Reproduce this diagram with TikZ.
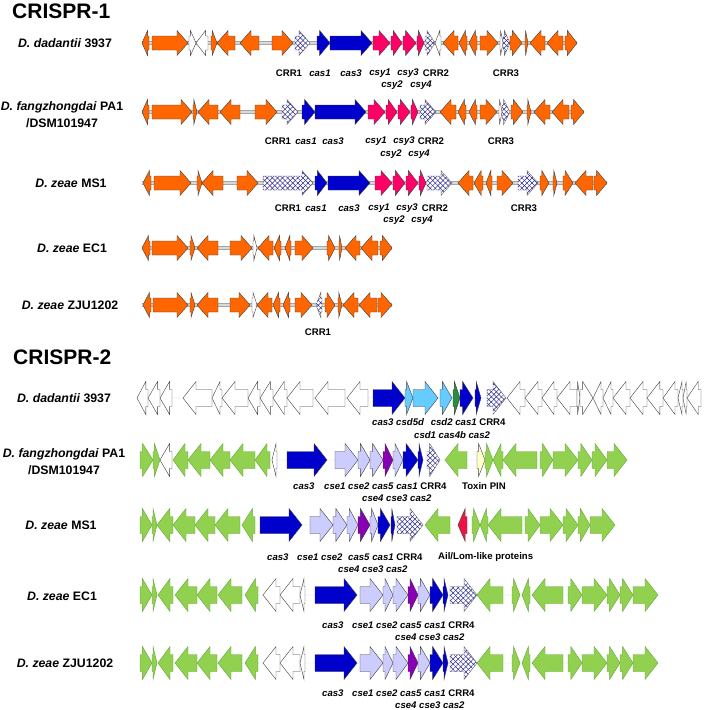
\documentclass[tikz,border=0pt]{standalone}
\usepackage{fontspec}
\setmainfont{Liberation Sans}
\usepackage{tikz}
\usetikzlibrary{patterns, patterns.meta}
\definecolor{genorange}{RGB}{255,102,0}
\definecolor{genblue}{RGB}{0,0,204}
\definecolor{genpink}{RGB}{255,0,102}
\definecolor{genhatch}{RGB}{40,40,140}
\definecolor{gengreen}{RGB}{146,208,80}
\definecolor{genedge}{RGB}{98,168,58}
\definecolor{genlblue}{RGB}{102,204,255}
\definecolor{gendgreen}{RGB}{40,140,60}
\definecolor{genlav}{RGB}{204,204,255}
\definecolor{genpurple}{RGB}{136,0,180}
\definecolor{genred}{RGB}{235,20,70}
\definecolor{genyellow}{RGB}{255,255,204}

% gene arrow: [style]{y}{tail}{tip}
\newcommand{\gene}[4][orangegene]{%
  \pgfmathsetmacro\gnw{#4-(#3)}%
  \pgfmathsetmacro\gnl{sign(\gnw)*min(\headmax,0.8*abs(\gnw))}%
  \pgfmathsetmacro\gnb{#4-(\gnl)}%
  \draw[#1] (#3,#2-\bodyh) -- (\gnb,#2-\bodyh) -- (\gnb,#2-\headh) -- (#4,#2)
    -- (\gnb,#2+\headh) -- (\gnb,#2+\bodyh) -- (#3,#2+\bodyh) -- cycle;}

\begin{document}
\begin{tikzpicture}[
            x = 1pt, y = -1pt, % picture in pixels, y down
            line join = miter,
            orangegene/.style = {fill = genorange, draw = black!75, line width = 0.4pt},
            whitegene/.style = {fill = white, draw = black!75, line width = 0.4pt},
            bluegene/.style = {fill = genblue, draw = black!75, line width = 0.4pt},
            pinkgene/.style = {fill = genpink, draw = black!75, line width = 0.4pt},
            hatchgene/.style = {draw = black!60, line width = 0.4pt,
                preaction = {fill = white},
                preaction = {pattern = {Lines[angle = 45, distance = 3.6pt, line width = 0.5pt]}, pattern color = genhatch},
                pattern = {Lines[angle = -45, distance = 3.6pt, line width = 0.5pt]}, pattern color = genhatch},
            greengene/.style = {fill = gengreen, draw = genedge, line width = 0.4pt},
            lbluegene/.style = {fill = genlblue, draw = black!75, line width = 0.4pt},
            dgreengene/.style = {fill = gendgreen, draw = black!75, line width = 0.4pt},
            lavgene/.style = {fill = genlav, draw = black!75, line width = 0.4pt},
            purplegene/.style = {fill = genpurple, draw = black!75, line width = 0.4pt},
            redgene/.style = {fill = genred, draw = black!75, line width = 0.4pt},
            yellowgene/.style = {fill = genyellow, draw = black!75, line width = 0.4pt},
            backbone/.style = {draw = gray!70, double = gray!30, double distance = 2pt, line width = 0.7pt},
            backbone2/.style = {draw = gray!35, double = gray!5, double distance = 1.6pt, line width = 0.5pt}
        ]

        \tikzstyle{hdr}=[font = \fontsize{21}{24}\selectfont\bfseries, anchor = west, inner sep = 0pt]
        \tikzstyle{splab}=[font = \fontsize{12.3}{17}\selectfont\bfseries, align = center, inner sep = 0pt]
        \tikzstyle{glab}=[font = \fontsize{9.6}{12}\selectfont\bfseries, inner sep = 0pt]
        \tikzstyle{gline}=[glab, anchor = west]

        \useasboundingbox (0,0) rectangle (709,710);

        \def\headh{12.5}
        \def\bodyh{7}
        \def\headmax{11}

	% CRISPR-1
        \node[hdr] (crispr1) at (12,11) {CRISPR-1};

        \node[splab] (spA1) at (65,43) {\textit{D. dadantii} 3937};
        \node[splab] (spA2) at (62,115) {\textit{D. fangzhongdai} PA1\\/DSM101947};
        \node[splab] (spA3) at (71,183) {\textit{D. zeae} MS1};
        \node[splab] (spA4) at (72,248) {\textit{D. zeae} EC1};
        \node[splab] (spA5) at (70,305) {\textit{D. zeae} ZJU1202};

        % D. dadantii 3937
        \coordinate (a1s) at (142,43);
        \coordinate (a1e) at (577,43);
        \draw[backbone] (a1s) -- (a1e);
        \gene{43}{149}{142}
        \gene{43}{152}{188}
        \gene[whitegene]{43}{189}{196}
        \gene[whitegene]{43}{208}{196}
        \gene{43}{211}{217}
        \gene{43}{235}{217}
        \gene{43}{259}{240}
        \gene{43}{272}{293}
        \gene[hatchgene]{43}{295}{310}
        \gene[bluegene]{43}{317}{330}
        \gene[bluegene]{43}{330}{372}
        \gene[pinkgene]{43}{373}{390}
        \gene[pinkgene]{43}{391}{402}
        \gene[pinkgene]{43}{403}{416}
        \gene[pinkgene]{43}{417}{424}
        \gene[hatchgene]{43}{425}{435}
        \gene[whitegene]{43}{441}{435}
        \gene{43}{458}{443}
        \gene{43}{467}{459}
        \gene{43}{477}{469}
        \gene{43}{480}{498}
        \gene[whitegene]{43}{500}{503}
        \gene[hatchgene]{43}{503}{510}
        \gene{43}{510}{522}
        \gene{43}{525}{528}
        \gene{43}{545}{530}
        \gene{43}{563}{547}
        \gene{43}{565}{577}

        \node[glab] (a1crr1) at (289,73) {CRR1};
        \node[glab] (a1cas1) at (320,73) {\textit{cas1}};
        \node[glab] (a1cas3) at (351,73) {\textit{cas3}};
        \node[glab] (a1csy1) at (380,73) {\textit{csy1}};
        \node[glab] (a1csy3) at (408,73) {\textit{csy3}};
        \node[glab] (a1crr2) at (436,73) {CRR2};
        \node[glab] (a1csy2) at (392,85) {\textit{csy2}};
        \node[glab] (a1csy4) at (421,85) {\textit{csy4}};
        \node[glab] (a1crr3) at (506,73) {CRR3};

        % D. fangzhongdai PA1
        \coordinate (a2s) at (142,112);
        \coordinate (a2e) at (584,112);
        \draw[backbone] (a2s) -- (a2e);
        \gene{112}{149}{142}
        \gene{112}{152}{192}
        \gene{112}{193}{197}
        \gene{112}{218}{198}
        \gene{112}{240}{220}
        \gene{112}{255}{277}
        \gene[hatchgene]{112}{282}{298}
        \gene[bluegene]{112}{302}{315}
        \gene[bluegene]{112}{315}{366}
        \gene[pinkgene]{112}{368}{385}
        \gene[pinkgene]{112}{386}{397}
        \gene[pinkgene]{112}{398}{410}
        \gene[pinkgene]{112}{411}{418}
        \gene[hatchgene]{112}{420}{436}
        \gene{112}{456}{440}
        \gene{112}{466}{458}
        \gene{112}{477}{469}
        \gene{112}{480}{497}
        \gene[whitegene]{112}{499}{502}
        \gene[hatchgene]{112}{502}{510}
        \gene{112}{511}{523}
        \gene{112}{527}{531}
        \gene{112}{550}{534}
        \gene{112}{569}{552}
        \gene{112}{571}{584}

        \node[glab] (a2crr1) at (278,141) {CRR1};
        \node[glab] (a2cas1) at (306,141) {\textit{cas1}};
        \node[glab] (a2cas3) at (333,141) {\textit{cas3}};
        \node[glab] (a2csy1) at (376,141) {\textit{csy1}};
        \node[glab] (a2csy3) at (404,141) {\textit{csy3}};
        \node[glab] (a2crr2) at (431,141) {CRR2};
        \node[glab] (a2csy2) at (391,154) {\textit{csy2}};
        \node[glab] (a2csy4) at (419,154) {\textit{csy4}};
        \node[glab] (a2crr3) at (501,141) {CRR3};

        % D. zeae MS1
        \coordinate (a3s) at (142,183);
        \coordinate (a3e) at (607,183);
        \draw[backbone] (a3s) -- (a3e);
        \gene{183}{151}{143}
        \gene{183}{154}{191}
        \gene{183}{197}{202}
        \gene{183}{223}{202}
        \gene{183}{237}{258}
        \gene[hatchgene]{183}{263}{313}
        \gene[bluegene]{183}{315}{327}
        \gene[bluegene]{183}{328}{370}
        \gene[pinkgene]{183}{375}{392}
        \gene[pinkgene]{183}{393}{405}
        \gene[pinkgene]{183}{406}{418}
        \gene[pinkgene]{183}{419}{426}
        \gene[hatchgene]{183}{427}{452}
        \gene{183}{473}{458}
        \gene{183}{483}{474}
        \gene{183}{492}{486}
        \gene{183}{497}{513}
        \gene[hatchgene]{183}{518}{538}
        \gene{183}{540}{549}
        \gene{183}{553}{557}
        \gene{183}{563}{573}
        \gene{183}{593}{575}
        \gene{183}{594}{607}

        \node[glab] (a3crr1) at (288,208) {CRR1};
        \node[glab] (a3cas1) at (316,208) {\textit{cas1}};
        \node[glab] (a3cas3) at (349,208) {\textit{cas3}};
        \node[glab] (a3csy1) at (379,208) {\textit{csy1}};
        \node[glab] (a3csy3) at (407,208) {\textit{csy3}};
        \node[glab] (a3crr2) at (435,208) {CRR2};
        \node[glab] (a3csy2) at (394,220) {\textit{csy2}};
        \node[glab] (a3csy4) at (422,220) {\textit{csy4}};
        \node[glab] (a3crr3) at (524,208) {CRR3};

        % D. zeae EC1
        \coordinate (a4s) at (142,248);
        \coordinate (a4e) at (392,248);
        \draw[backbone] (a4s) -- (a4e);
        \gene{248}{150}{142}
        \gene{248}{152}{188}
        \gene{248}{190}{195}
        \gene{248}{218}{197}
        \gene{248}{230}{252}
        \gene[whitegene]{248}{253}{257}
        \gene{248}{273}{258}
        \gene{248}{281}{274}
        \gene{248}{291}{285}
        \gene{248}{295}{313}
        \gene{248}{327}{335}
        \gene{248}{339}{342}
        \gene{248}{360}{345}
        \gene{248}{378}{361}
        \gene{248}{380}{392}

        % D. zeae ZJU1202
        \coordinate (a5s) at (142,305);
        \coordinate (a5e) at (392,305);
        \draw[backbone] (a5s) -- (a5e);
        \gene{305}{151}{143}
        \gene{305}{153}{188}
        \gene{305}{190}{195}
        \gene{305}{218}{197}
        \gene{305}{230}{250}
        \gene[whitegene]{305}{252}{257}
        \gene{305}{272}{257}
        \gene{305}{280}{273}
        \gene{305}{290}{283}
        \gene{305}{295}{312}
        \gene[hatchgene]{305}{322}{316}
        \gene{305}{325}{335}
        \gene{305}{338}{342}
        \gene{305}{358}{343}
        \gene{305}{377}{359}
        \gene{305}{378}{392}

        \node[glab] (a5crr1) at (318,332) {CRR1};

	% CRISPR-2
        \def\headh{16.5}
        \def\bodyh{8.5}
        \def\headmax{13}

        \node[hdr] (crispr2) at (13,357) {CRISPR-2};

        \node[splab] (spB1) at (64,398) {\textit{D. dadantii} 3937};
        \node[splab] (spB2) at (64,462) {\textit{D. fangzhongdai} PA1\\/DSM101947};
        \node[splab] (spB3) at (61,525) {\textit{D. zeae} MS1};
        \node[splab] (spB4) at (62,596) {\textit{D. zeae} EC1};
        \node[splab] (spB5) at (65,663) {\textit{D. zeae} ZJU1202};

        % D. dadantii 3937
        \coordinate (b1s) at (135,398);
        \coordinate (b1e) at (703,398);
        \draw[backbone2] (b1s) -- (b1e);
        \gene[whitegene]{398}{148}{137}
        \gene[whitegene]{398}{160}{148}
        \gene[whitegene]{398}{172}{160}
        \gene[whitegene]{398}{212}{183}
        \gene[whitegene]{398}{222}{212}
        \gene[whitegene]{398}{248}{222}
        \gene[whitegene]{398}{260}{248}
        \gene[whitegene]{398}{273}{260}
        \gene[whitegene]{398}{287}{273}
        \gene[whitegene]{398}{313}{287}
        \gene[whitegene]{398}{345}{315}
        \gene[whitegene]{398}{368}{347}
        \gene[bluegene]{398}{373}{405}
        \gene[lbluegene]{398}{405}{413}
        \gene[lbluegene]{398}{413}{438}
        \gene[lbluegene]{398}{440}{452}
        \gene[dgreengene]{398}{453}{460}
        \gene[bluegene]{398}{460}{473}
        \gene[bluegene]{398}{475}{481}
        \gene[hatchgene]{398}{487}{506}
        \gene[whitegene]{398}{525}{507}
        \gene[whitegene]{398}{542}{525}
        \gene[whitegene]{398}{557}{542}
        \gene[whitegene]{398}{577}{557}
        \gene[whitegene]{398}{577}{580}
        \gene[whitegene]{398}{580}{593}
        \gene[whitegene]{398}{603}{593}
        \gene[whitegene]{398}{613}{603}
        \gene[whitegene]{398}{630}{613}
        \gene[whitegene]{398}{647}{630}
        \gene[whitegene]{398}{663}{647}
        \gene[whitegene]{398}{678}{663}
        \gene[whitegene]{398}{683}{678}
        \gene[whitegene]{398}{687}{683}
        \gene[whitegene]{398}{701}{687}

        \node[gline] (b1top) at (372,422) {\textit{cas3} \textit{csd5d}\hspace{4pt} \textit{csd2} \textit{cas1} CRR4};
        \node[gline] (b1bot) at (414,435) {\textit{csd1} \textit{cas4b} \textit{cas2}};

        % D. fangzhongdai PA1
        \coordinate (b2s) at (140,460);
        \coordinate (b2e) at (627,460);
        \draw[backbone2] (b2s) -- (b2e);
        \gene[greengene]{460}{140}{153}
        \gene[greengene]{460}{153}{160}
        \gene[whitegene]{460}{172}{160}
        \gene[greengene]{460}{188}{173}
        \gene[greengene]{460}{210}{188}
        \gene[greengene]{460}{230}{210}
        \gene[greengene]{460}{255}{230}
        \gene[greengene]{460}{270}{255}
        \gene[whitegene]{460}{277}{272}
        \gene[bluegene]{460}{287}{327}
        \gene[lavgene]{460}{335}{358}
        \gene[lavgene]{460}{358}{370}
        \gene[lavgene]{460}{370}{383}
        \gene[purplegene]{460}{383}{393}
        \gene[lavgene]{460}{393}{403}
        \gene[bluegene]{460}{403}{418}
        \gene[bluegene]{460}{418}{423}
        \gene[hatchgene]{460}{427}{440}
        \gene[greengene]{460}{467}{445}
        \gene[yellowgene]{460}{477}{485}
        \gene[greengene]{460}{485}{493}
        \gene[greengene]{460}{503}{493}
        \gene[greengene]{460}{537}{503}
        \gene[greengene]{460}{540}{553}
        \gene[greengene]{460}{553}{578}
        \gene[greengene]{460}{578}{592}
        \gene[greengene]{460}{592}{607}
        \gene[greengene]{460}{607}{627}

        \node[gline] (b2cas3) at (293,486) {\textit{cas3}};
        \node[gline] (b2top) at (324,486) {\textit{cse1} \textit{cse2} \textit{cas5} \textit{cas1} CRR4};
        \node[gline] (b2pin) at (462,486) {Toxin PIN};
        \node[gline] (b2bot) at (362,498) {\textit{cse4} \textit{cse3} \textit{cas2}};

        % D. zeae MS1
        \coordinate (b3s) at (140,525);
        \coordinate (b3e) at (615,525);
        \draw[backbone2] (b3s) -- (b3e);
        \gene[greengene]{525}{140}{152}
        \gene[greengene]{525}{152}{157}
        \gene[greengene]{525}{173}{157}
        \gene[greengene]{525}{195}{173}
        \gene[greengene]{525}{215}{195}
        \gene[greengene]{525}{240}{215}
        \gene[greengene]{525}{255}{242}
        \gene[bluegene]{525}{260}{302}
        \gene[lavgene]{525}{310}{333}
        \gene[lavgene]{525}{333}{347}
        \gene[lavgene]{525}{347}{358}
        \gene[purplegene]{525}{358}{370}
        \gene[lavgene]{525}{370}{378}
        \gene[bluegene]{525}{378}{390}
        \gene[bluegene]{525}{391}{395}
        \gene[hatchgene]{525}{397}{423}
        \gene[greengene]{525}{450}{425}
        \gene[redgene]{525}{467}{458}
        \gene[greengene]{525}{472}{480}
        \gene[greengene]{525}{488}{480}
        \gene[greengene]{525}{522}{488}
        \gene[greengene]{525}{525}{540}
        \gene[greengene]{525}{540}{563}
        \gene[greengene]{525}{563}{578}
        \gene[greengene]{525}{578}{590}
        \gene[greengene]{525}{590}{615}

        \node[gline] (b3cas3) at (267,557) {\textit{cas3}};
        \node[gline] (b3top) at (297,557) {\textit{cse1} \textit{cse2}\hspace{3pt} \textit{cas5} \textit{cas1} CRR4};
        \node[gline] (b3ail) at (438,557) {Ail/Lom-like proteins};
        \node[gline] (b3bot) at (338,569) {\textit{cse4} \textit{cse3} \textit{cas2}};

        % D. zeae EC1
        \coordinate (b4s) at (140,595);
        \coordinate (b4e) at (658,595);
        \draw[backbone2] (b4s) -- (b4e);
        \gene[greengene]{595}{140}{152}
        \gene[greengene]{595}{152}{157}
        \gene[greengene]{595}{173}{158}
        \gene[greengene]{595}{197}{175}
        \gene[greengene]{595}{217}{197}
        \gene[greengene]{595}{242}{218}
        \gene[greengene]{595}{258}{245}
        \gene[whitegene]{595}{280}{263}
        \gene[whitegene]{595}{300}{280}
        \gene[whitegene]{595}{305}{300}
        \gene[bluegene]{595}{315}{357}
        \gene[lavgene]{595}{360}{383}
        \gene[lavgene]{595}{383}{393}
        \gene[lavgene]{595}{393}{408}
        \gene[purplegene]{595}{408}{418}
        \gene[lavgene]{595}{418}{430}
        \gene[bluegene]{595}{430}{443}
        \gene[bluegene]{595}{443}{448}
        \gene[hatchgene]{595}{450}{477}
        \gene[greengene]{595}{503}{477}
        \gene[greengene]{595}{512}{520}
        \gene[greengene]{595}{530}{522}
        \gene[greengene]{595}{563}{532}
        \gene[greengene]{595}{568}{582}
        \gene[greengene]{595}{582}{607}
        \gene[greengene]{595}{607}{620}
        \gene[greengene]{595}{620}{633}
        \gene[greengene]{595}{633}{658}

        \node[gline] (b4cas3) at (322,625) {\textit{cas3}};
        \node[gline] (b4top) at (352,625) {\textit{cse1} \textit{cse2} \textit{cas5} \textit{cas1} CRR4};
        \node[gline] (b4bot) at (395,637) {\textit{cse4} \textit{cse3} \textit{cas2}};

        % D. zeae ZJU1202
        \coordinate (b5s) at (140,663);
        \coordinate (b5e) at (658,663);
        \draw[backbone2] (b5s) -- (b5e);
        \gene[greengene]{663}{140}{152}
        \gene[greengene]{663}{152}{157}
        \gene[greengene]{663}{173}{158}
        \gene[greengene]{663}{197}{175}
        \gene[greengene]{663}{217}{197}
        \gene[greengene]{663}{242}{218}
        \gene[greengene]{663}{258}{245}
        \gene[whitegene]{663}{280}{263}
        \gene[whitegene]{663}{300}{280}
        \gene[whitegene]{663}{305}{300}
        \gene[bluegene]{663}{315}{357}
        \gene[lavgene]{663}{360}{383}
        \gene[lavgene]{663}{383}{393}
        \gene[lavgene]{663}{393}{408}
        \gene[purplegene]{663}{408}{418}
        \gene[lavgene]{663}{418}{430}
        \gene[bluegene]{663}{430}{443}
        \gene[bluegene]{663}{443}{448}
        \gene[hatchgene]{663}{450}{477}
        \gene[greengene]{663}{503}{477}
        \gene[greengene]{663}{512}{520}
        \gene[greengene]{663}{530}{522}
        \gene[greengene]{663}{563}{532}
        \gene[greengene]{663}{568}{582}
        \gene[greengene]{663}{582}{607}
        \gene[greengene]{663}{607}{620}
        \gene[greengene]{663}{620}{633}
        \gene[greengene]{663}{633}{658}

        \node[gline] (b5cas3) at (322,693) {\textit{cas3}};
        \node[gline] (b5top) at (352,693) {\textit{cse1} \textit{cse2} \textit{cas5} \textit{cas1} CRR4};
        \node[gline] (b5bot) at (395,705) {\textit{cse4} \textit{cse3} \textit{cas2}};

  \end{tikzpicture}
\end{document}
